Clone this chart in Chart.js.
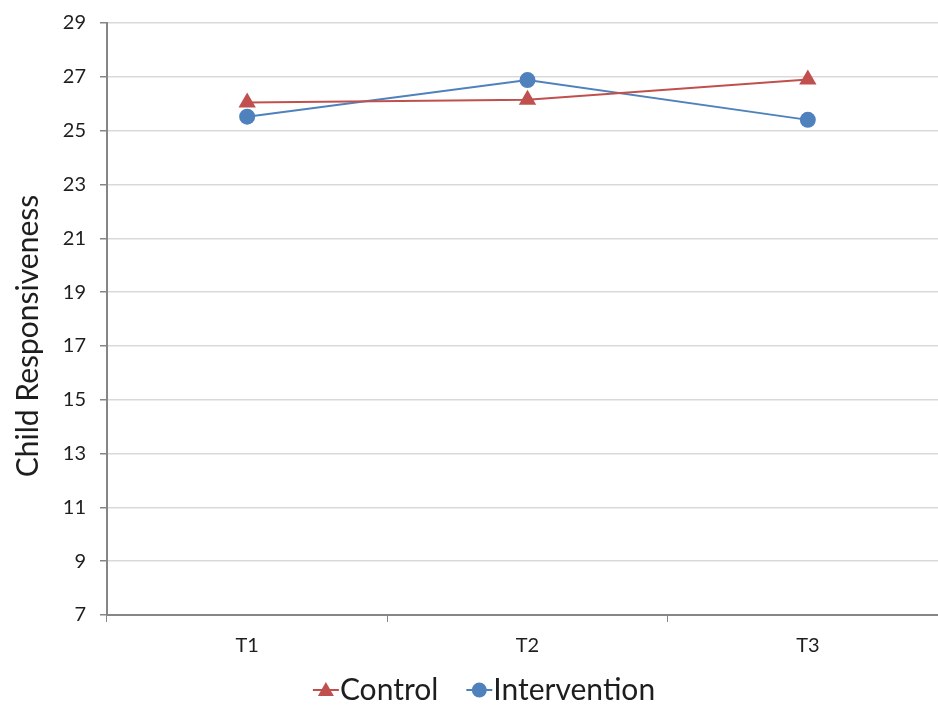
<!DOCTYPE html>
<html>
<head>
<meta charset="utf-8">
<script src="https://cdn.jsdelivr.net/npm/chart.js@4/dist/chart.umd.min.js"></script>
<style>
  html, body { margin: 0; padding: 0; background: #fff; overflow: hidden; }
  #wrap { width: 938px; height: 706px; overflow: hidden; }
</style>
</head>
<body>
<div id="wrap"><canvas id="c" width="958" height="706"></canvas></div>
<script>
// Child responsiveness scores across three time points
const timePoints = ['T1', 'T2', 'T3'];
const controlScores = [26.05, 26.15, 26.9];
const interventionScores = [25.52, 26.88, 25.4];
const yTicks = [7, 9, 11, 13, 15, 17, 19, 21, 23, 25, 27, 29];
const seriesNames = ['Control', 'Intervention'];
const yTitle = 'Child Responsiveness';

const RED = '#C0504D';
const BLUE = '#4F81BD';
const FONT = 'Lato, "Open Sans", sans-serif';
const TEXT = '#1e1e1e';

// Rotated y-axis title, placed a little below the axis middle
const yTitlePlugin = {
  id: 'yTitle',
  afterDraw(chart) {
    const g = chart.ctx;
    const a = chart.chartArea;
    g.save();
    g.translate(28, (a.top + a.bottom) / 2 + 17);
    g.rotate(-Math.PI / 2);
    g.font = '30px ' + FONT;
    g.fillStyle = TEXT;
    g.textAlign = 'center';
    g.textBaseline = 'middle';
    g.fillText(yTitle, 0, 0);
    g.restore();
  }
};

// Bottom legend: short line with the series marker, then the series name
const legendPlugin = {
  id: 'lineLegend',
  afterDraw(chart) {
    const g = chart.ctx;
    const y = 690;
    const sw = 26;      // swatch width
    const gapItem = 28; // space between items
    g.save();
    g.font = '30px ' + FONT;
    const widths = seriesNames.map(n => g.measureText(n).width);
    const total = sw * 2 + widths[0] + widths[1] + gapItem + 2;
    let x = 484 - total / 2;
    chart.data.datasets.forEach((ds, i) => {
      const c = ds.borderColor;
      g.strokeStyle = c; g.lineWidth = 2;
      g.beginPath(); g.moveTo(x, y); g.lineTo(x + sw, y); g.stroke();
      g.fillStyle = c;
      g.beginPath();
      const cx = x + sw / 2;
      if (ds.pointStyle === 'triangle') {
        g.moveTo(cx, y - 8); g.lineTo(cx + 8, y + 6); g.lineTo(cx - 8, y + 6); g.closePath();
      } else {
        g.arc(cx, y, 7.5, 0, Math.PI * 2);
      }
      g.fill();
      x += sw + 1;
      g.fillStyle = TEXT;
      g.textAlign = 'left';
      g.textBaseline = 'middle';
      g.fillText(ds.label, x, y);
      x += widths[i] + gapItem;
    });
    g.restore();
  }
};

new Chart(document.getElementById('c'), {
  type: 'line',
  data: {
    labels: timePoints,
    datasets: [
      {
        label: seriesNames[0],
        data: controlScores,
        borderColor: RED,
        backgroundColor: RED,
        borderWidth: 2,
        pointStyle: 'triangle',
        pointRadius: 10,
        pointHoverRadius: 10,
        pointBorderWidth: 0,
        tension: 0
      },
      {
        label: seriesNames[1],
        data: interventionScores,
        borderColor: BLUE,
        backgroundColor: BLUE,
        borderWidth: 2,
        pointStyle: 'circle',
        pointRadius: 8,
        pointHoverRadius: 8,
        pointBorderWidth: 0,
        tension: 0
      }
    ]
  },
  options: {
    responsive: false,
    animation: false,
    devicePixelRatio: 1,
    layout: { padding: { top: 23, right: 0, left: 0, bottom: 36 } },
    plugins: {
      tooltip: { enabled: false },
      legend: { display: false }
    },
    scales: {
      x: {
        offset: true,
        grid: {
          offset: true,
          drawOnChartArea: false,
          drawTicks: true,
          tickLength: 7,
          tickColor: '#868686'
        },
        border: { color: '#868686', width: 2 },
        ticks: {
          color: TEXT,
          font: { family: FONT, size: 20 },
          padding: 12
        }
      },
      y: {
        min: 7,
        max: 29,
        afterBuildTicks(axis) { axis.ticks = yTicks.map(v => ({ value: v })); },
        afterFit(axis) {
          axis.width = 107;
          axis.paddingTop = 0;
          axis.paddingBottom = 0;
        },
        grid: {
          color: '#D9D9D9',
          lineWidth: 1.5,
          drawTicks: true,
          tickLength: 7,
          tickColor: '#868686'
        },
        border: { color: '#868686', width: 2 },
        ticks: {
          color: TEXT,
          font: { family: FONT, size: 20 },
          padding: 14
        }
      }
    }
  },
  plugins: [yTitlePlugin, legendPlugin]
});
</script>
</body>
</html>
